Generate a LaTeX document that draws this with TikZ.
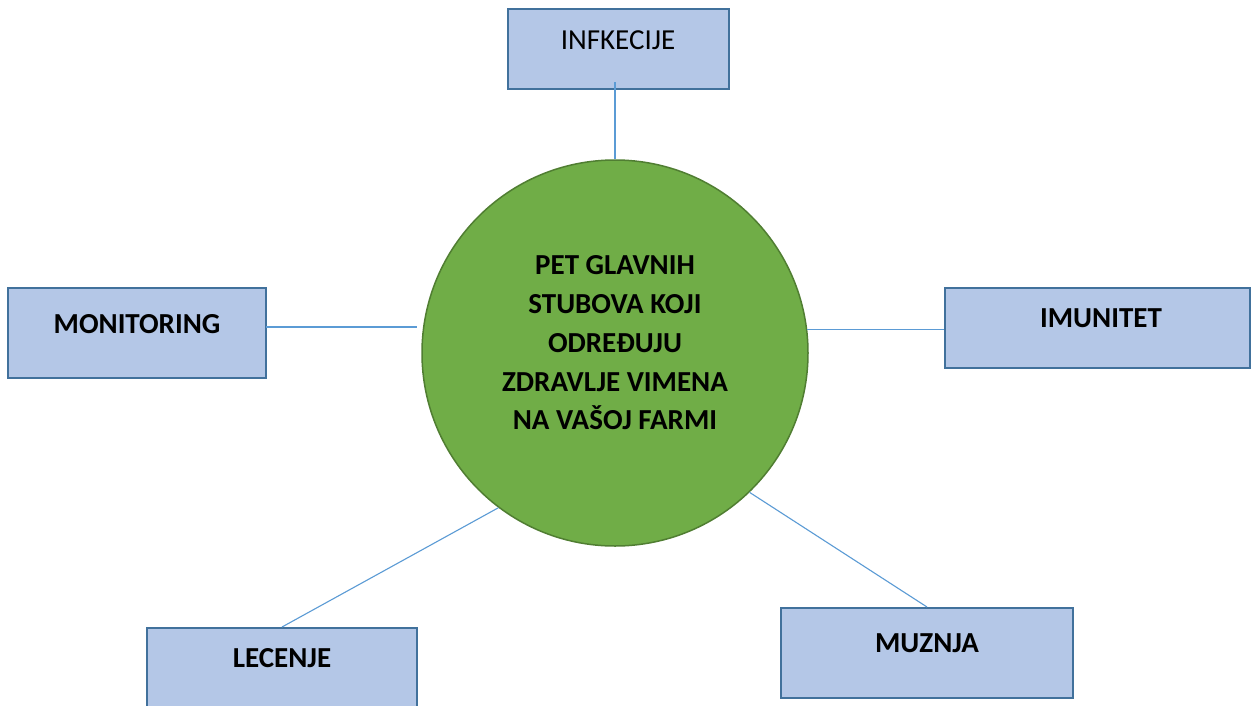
\documentclass[tikz,border=0pt]{standalone}
\usepackage{fontspec}
\setmainfont{Carlito}
\begin{document}
\begin{tikzpicture}[x=1pt,y=-1pt,
  box/.style={draw=boxline,fill=boxfill,line width=2pt,rectangle,inner sep=0pt},
  lab/.style={anchor=base,inner sep=0pt,font=\fontsize{29}{34}\selectfont},
  blab/.style={lab,font=\fontsize{29}{34}\selectfont\bfseries},
  conn/.style={draw=connline,line width=1.1pt}]
\definecolor{boxfill}{HTML}{B4C7E7}
\definecolor{boxline}{HTML}{41719C}
\definecolor{circfill}{HTML}{70AD47}
\definecolor{circline}{HTML}{507E32}
\definecolor{connline}{HTML}{5B9BD5}
\useasboundingbox (0,0) rectangle (1251,705);
\fill[white] (0,0) rectangle (1251,705);
% boxes
\node[box,minimum width=221pt,minimum height=80pt] (inf) at (618.5,49) {};
\node[box,minimum width=258pt,minimum height=90pt] (mon) at (137,333) {};
\node[box,minimum width=305pt,minimum height=80pt] (imu) at (1097.5,328) {};
\node[box,minimum width=270pt,minimum height=90pt] (lec) at (282,673) {};
\node[box,minimum width=292pt,minimum height=90pt] (muz) at (927,653) {};
% circle
\node[circle,draw=circline,fill=circfill,line width=1.5pt,minimum size=386pt,inner sep=0pt] (c) at (615,353) {};
% labels
\node[lab] (tinf) at (618,49) {INFKECIJE};
\node[blab] (tmon) at (137,333) {MONITORING};
\node[blab] (timu) at (1101,327) {IMUNITET};
\node[blab] (tlec) at (282,667) {LECENJE};
\node[blab] (tmuz) at (927,652) {MUZNJA};
\node[inner sep=0pt,align=center,font=\fontsize{29}{38.75}\selectfont\bfseries] (tc) at (615,343)
  {PET GLAVNIH\\STUBOVA KOJI\\ODREĐUJU\\ZDRAVLJE VIMENA\\NA VAŠOJ FARMI};
% connector ends
\coordinate (infin) at (615,82);
\coordinate (cl) at (417,327);
\coordinate (monr) at (266,327);
% connectors
\draw[conn] (infin) -- (c.north);
\draw[conn] (monr) -- (cl);
\draw[conn] (c.7.7) -- (c.7.7 -| imu.west);
\draw[conn] (c.233.25) -- (lec.north);
\draw[conn] (c.314.15) -- (muz.north);
\end{tikzpicture}
\end{document}
